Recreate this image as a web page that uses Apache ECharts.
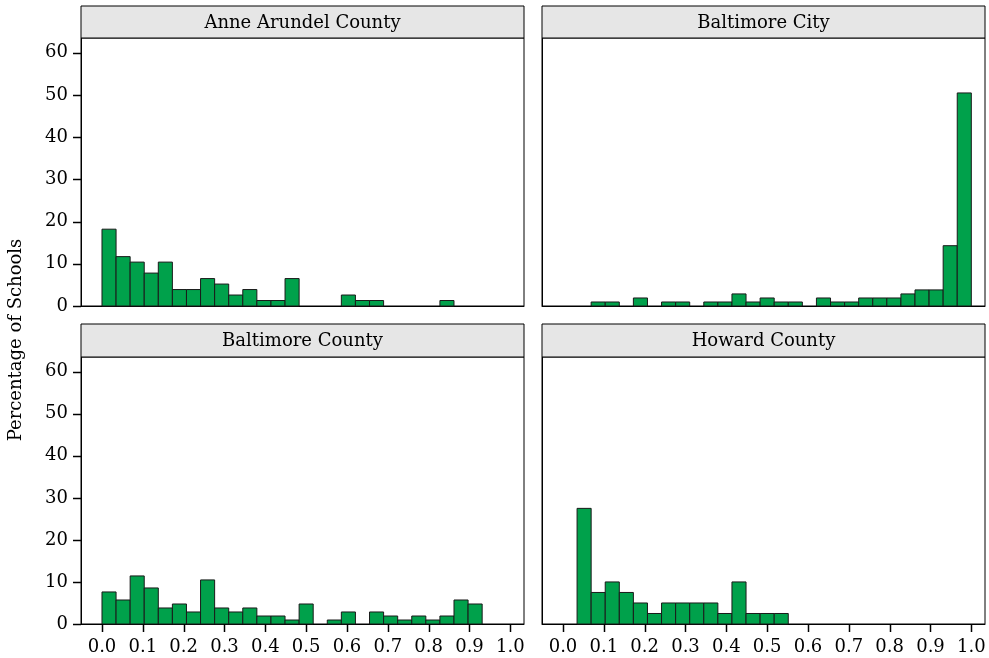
<!DOCTYPE html>
<html>
<head>
<meta charset="utf-8">
<script src="https://cdn.jsdelivr.net/npm/echarts@6/dist/echarts.min.js"></script>
<style>
html,body{margin:0;padding:0;background:#fff;}
#chart{width:989px;height:658px;}
</style>
</head>
<body>
<div id="chart"></div>
<script>
// ---- data ----
const counties = ["Anne Arundel County", "Baltimore City", "Baltimore County", "Howard County"];
const binMin = 0, binMax = 1, binCount = 29;
const anneArundel = [18.2, 11.7, 10.4, 7.8, 10.4, 3.9, 3.9, 6.5, 5.2, 2.6, 3.9, 1.3, 1.3, 6.5, 0, 0, 0, 2.6, 1.3, 1.3, 0, 0, 0, 0, 1.3, 0, 0, 0, 0];
const baltimoreCity = [0, 0, 0.95, 0.95, 0, 1.9, 0, 0.95, 0.95, 0, 0.95, 0.95, 2.86, 0.95, 1.9, 0.95, 0.95, 0, 1.9, 0.95, 0.95, 1.9, 1.9, 1.9, 2.86, 3.81, 3.81, 14.29, 50.48];
const baltimoreCounty = [7.62, 5.71, 11.43, 8.57, 3.81, 4.76, 2.86, 10.48, 3.81, 2.86, 3.81, 1.9, 1.9, 0.95, 4.76, 0, 0.95, 2.86, 0, 2.86, 1.9, 0.95, 1.9, 0.95, 1.9, 5.71, 4.76, 0, 0];
const howard = [0, 27.5, 7.5, 10, 7.5, 5, 2.5, 5, 5, 5, 5, 2.5, 10, 2.5, 2.5, 2.5, 0, 0, 0, 0, 0, 0, 0, 0, 0, 0, 0, 0, 0];
const xTicks = [0, 0.1, 0.2, 0.3, 0.4, 0.5, 0.6, 0.7, 0.8, 0.9, 1.0];
const yTicks = [0, 10, 20, 30, 40, 50, 60];
const yTitle = "Percentage of Schools";

const panelValues = [anneArundel, baltimoreCity, baltimoreCounty, howard];

// ---- layout ----
const FONT = "DejaVu Serif";
const X_MIN = -0.0514, X_MAX = 1.0335, Y_MIN = 0, Y_MAX = 63.5, TICK = 8;
const panels = [
  {left: 81, top: 38, width: 443, height: 268, stripTop: 6, col: 0, row: 0},
  {left: 542, top: 38, width: 443, height: 268, stripTop: 6, col: 1, row: 0},
  {left: 81, top: 357, width: 443, height: 267, stripTop: 324, col: 0, row: 1},
  {left: 542, top: 357, width: 443, height: 267, stripTop: 324, col: 1, row: 1}
];

const chart = echarts.init(document.getElementById('chart'), null, {renderer: 'canvas'});
const binW = (binMax - binMin) / binCount;

const grid = [], xAxis = [], yAxis = [], series = [], graphic = [];
panels.forEach((p, i) => {
  grid.push({left: p.left, top: p.top, width: p.width, height: p.height,
    show: true, borderColor: '#000', borderWidth: 1});
  const bottom = p.row === 1;
  const leftCol = p.col === 0;
  xAxis.push({
    type: 'value', gridIndex: i, min: X_MIN, max: X_MAX,
    axisLine: {show: true, onZero: false, lineStyle: {color: '#000', width: 1}},
    splitLine: {show: false},
    axisTick: {show: false},
    axisLabel: {show: bottom, customValues: xTicks, margin: 14, color: '#000',
      fontFamily: FONT, fontSize: 18, formatter: v => v.toFixed(1)}
  });
  yAxis.push({
    type: 'value', gridIndex: i, min: Y_MIN, max: Y_MAX,
    axisLine: {show: true, onZero: false, lineStyle: {color: '#000', width: 1}},
    splitLine: {show: false},
    axisTick: {show: false},
    axisLabel: {show: leftCol, customValues: yTicks, margin: 13, color: '#000',
      fontFamily: FONT, fontSize: 18}
  });
  const vals = panelValues[i];
  series.push({
    type: 'custom', xAxisIndex: i, yAxisIndex: i,
    data: vals.map((v, k) => [k, v]),
    renderItem: function (params, api) {
      const k = api.value(0), v = api.value(1);
      if (!v) return null;
      const x0 = binMin + k * binW, x1 = x0 + binW;
      const a = api.coord([x0, v]);
      const b = api.coord([x1, 0]);
      return {
        type: 'rect',
        shape: {x: a[0], y: a[1], width: b[0] - a[0], height: b[1] - a[1]},
        style: {fill: '#00A14B', stroke: '#1a1a1a', lineWidth: 1}
      };
    },
    silent: true
  });
  // strip
  graphic.push({
    type: 'rect', shape: {x: p.left, y: p.stripTop, width: p.width, height: p.top - p.stripTop},
    style: {fill: '#e6e6e6', stroke: '#000', lineWidth: 1}, z: 10
  });
  graphic.push({
    type: 'text', x: p.left + p.width / 2, y: (p.stripTop + p.top) / 2 + 1,
    style: {text: counties[i], fill: '#000', font: '18px "' + FONT + '"', align: 'center', verticalAlign: 'middle'}, z: 11
  });
});
graphic.push({
  type: 'text', x: 16, y: 340, rotation: Math.PI / 2,
  style: {text: yTitle, fill: '#000', font: '18px "' + FONT + '"', align: 'center', verticalAlign: 'middle'}, z: 11
});

chart.setOption({
  animation: false,
  backgroundColor: '#fff',
  grid, xAxis, yAxis, series, graphic
});

// tick marks placed through the axes' own scales (convertToPixel)
const tickGraphics = [];
panels.forEach((p, i) => {
  if (p.row === 1) {
    xTicks.forEach(v => {
      const c = chart.convertToPixel({gridIndex: i}, [v, Y_MIN]);
      const x = Math.round(c[0]) + 0.5;
      tickGraphics.push({type: 'line', z: 50,
        shape: {x1: x, y1: c[1], x2: x, y2: c[1] + TICK},
        style: {stroke: '#000', lineWidth: 1.5}});
    });
  }
  if (p.col === 0) {
    yTicks.forEach(v => {
      const c = chart.convertToPixel({gridIndex: i}, [X_MIN, v]);
      const y = Math.round(c[1]) + 0.5;
      tickGraphics.push({type: 'line', z: 50,
        shape: {x1: c[0] - TICK, y1: y, x2: c[0], y2: y},
        style: {stroke: '#000', lineWidth: 1.5}});
    });
  }
});
chart.setOption({graphic: graphic.concat(tickGraphics)}, {replaceMerge: ['graphic']});
</script>
</body>
</html>
